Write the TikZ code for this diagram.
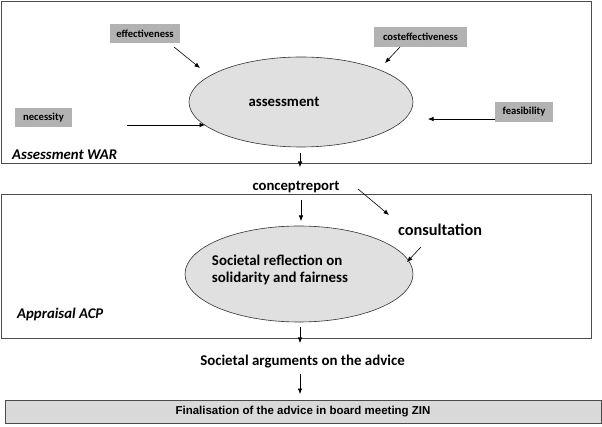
\documentclass[tikz,border=0pt]{standalone}
\usepackage{fontspec}
\setmainfont{Carlito}
\newfontfamily\arialf{Liberation Sans}
\usetikzlibrary{arrows.meta,shapes.geometric}
\begin{document}
\begin{tikzpicture}[x=1pt,y=-1pt,
  frame/.style={draw=black!70,line width=0.8pt},
  crit/.style={fill=black!30,draw=none,inner sep=0pt,minimum height=19pt,font=\bfseries\fontsize{10.6}{12}\selectfont},
  oval/.style={ellipse,draw=black!80,fill=black!12,line width=0.6pt,inner sep=0pt},
  arr/.style={-{Latex[length=5.5pt,width=4.5pt]},line width=0.6pt},
  lbl/.style={font=\bfseries\fontsize{14.7}{17}\selectfont,inner sep=0pt},
  phase/.style={font=\bfseries\itshape\fontsize{14.8}{17}\selectfont,anchor=west,inner sep=0pt}]
\useasboundingbox (0,0) rectangle (602,427);
% top box
\node[frame,minimum width=590pt,minimum height=162pt,inner sep=0pt] (warbox) at (296,82) {};
\node[oval,minimum width=224pt,minimum height=90pt] (assess) at (301,102) {};
\node[font=\bfseries\fontsize{14.8}{17}\selectfont,inner sep=0pt] (assesst) at (284,102) {assessment};
\node[crit,minimum width=70pt] (eff) at (145,34) {effectiveness};
\node[crit,minimum width=57pt] (nec) at (43.5,117.5) {necessity};
\node[crit,minimum width=93pt,minimum height=20pt] (cost) at (420.5,37) {costeffectiveness};
\node[crit,minimum width=58pt,minimum height=20pt] (feas) at (524,112) {feasibility};
\node[phase] (war) at (12,155) {Assessment WAR};
\coordinate (effs) at (174,47); \coordinate (effe) at (200,68);
\coordinate (necs) at (127,125); \coordinate (nece) at (205,125);
\coordinate (costs) at (400,47); \coordinate (coste) at (385,63);
\coordinate (feass) at (495,119); \coordinate (fease) at (428,119);
\draw[arr] (effs) -- (effe);
\draw[arr] (necs) -- (nece);
\draw[arr] (costs) -- (coste);
\draw[arr] (feass) -- (fease);
\coordinate (a1s) at (300,153); \coordinate (a1e) at (300,167);
\draw[arr] (a1s) -- (a1e);
% concept report
\node[lbl] (concept) at (296,187) {conceptreport};
\coordinate (a2s) at (301,200); \coordinate (a2e) at (301,221);
\draw[arr] (a2s) -- (a2e);
% second box
\node[frame,minimum width=590pt,minimum height=144pt,inner sep=0pt] (acpbox) at (296,266) {};
\node[oval,minimum width=228pt,minimum height=96pt] (refl) at (299,274) {};
\node[font=\bfseries\fontsize{14.9}{17}\selectfont,align=left,inner sep=0pt] (reflt) at (280,269.5) {Societal reflection on\\solidarity and fairness};
\node[font=\bfseries\fontsize{16.3}{19}\selectfont,inner sep=0pt] (consult) at (440,230) {consultation};
\coordinate (c1s) at (358,189); \coordinate (c1e) at (389,215);
\draw[arr] (c1s) -- (c1e);
\coordinate (c2s) at (421,247); \coordinate (c2e) at (407,262);
\draw[arr] (c2s) -- (c2e);
\node[phase] (acp) at (17,314) {Appraisal ACP};
\coordinate (a3s) at (300,327); \coordinate (a3e) at (300,343);
\draw[arr] (a3s) -- (a3e);
\node[font=\bfseries\fontsize{14.9}{17}\selectfont,inner sep=0pt] (args) at (302.5,362) {Societal arguments on the advice};
\coordinate (a4s) at (300,374); \coordinate (a4e) at (300,394);
\draw[arr] (a4s) -- (a4e);
\node[draw=black!70,fill=black!15,line width=0.8pt,minimum width=596pt,minimum height=23pt,inner sep=0pt,font=\arialf\bfseries\fontsize{11.5}{13}\selectfont] (final) at (303,411.5) {Finalisation of the advice in board meeting ZIN};
\end{tikzpicture}
\end{document}
